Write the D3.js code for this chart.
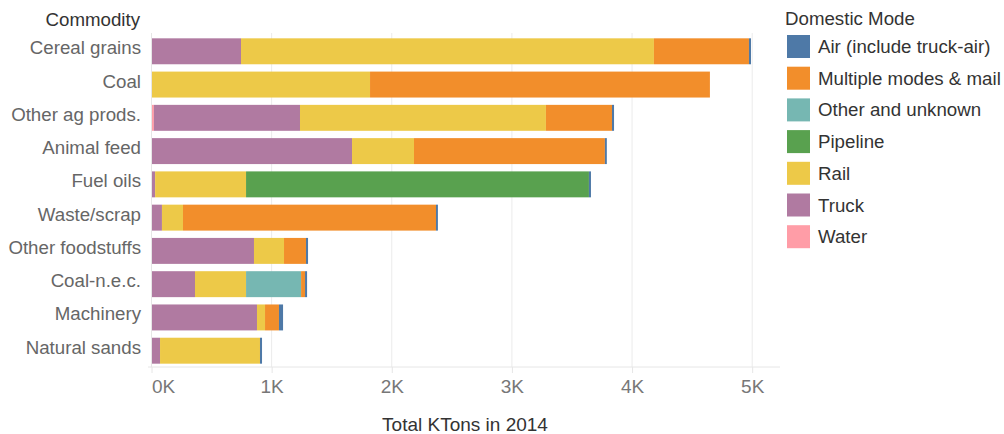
<!DOCTYPE html>
<html lang="en">
<head>
<meta charset="UTF-8">
<title>Commodity by Domestic Mode</title>
<script src="https://d3js.org/d3.v7.min.js"></script>
<style>
    body {
        margin: 0;
        padding: 0;
        background-color: #fff;
        font-family: "Liberation Sans", Arial, sans-serif;
    }
    svg text { font-family: "Liberation Sans", Arial, sans-serif; }
</style>
</head>
<body>
<svg id="chart" width="1004" height="434"></svg>
<script>
    // categories (top to bottom)
    var commodities = ["Cereal grains", "Coal", "Other ag prods.", "Animal feed", "Fuel oils",
        "Waste/scrap", "Other foodstuffs", "Coal-n.e.c.", "Machinery", "Natural sands"];

    // legend order
    var modes = ["Air (include truck-air)", "Multiple modes & mail", "Other and unknown",
        "Pipeline", "Rail", "Truck", "Water"];
    var modeColors = ["#4e79a7", "#f28e2b", "#76b7b2", "#59a14f", "#edc948", "#b07aa1", "#ff9da7"];

    // KTons per mode, one value per commodity
    var air      = [17, 0, 17, 16, 17, 16, 17, 17, 34, 17];
    var multiple = [791, 2829, 550, 1589, 0, 2106, 183, 33, 116, 0];
    var other    = [0, 0, 0, 0, 0, 0, 0, 458, 0, 0];
    var pipeline = [0, 0, 0, 0, 2854, 0, 0, 0, 0, 0];
    var rail     = [3437, 1819, 2047, 516, 757, 175, 250, 425, 67, 832];
    var truck    = [745, 0, 1216, 1669, 30, 87, 853, 362, 878, 71];
    var water    = [0, 0, 20, 0, 0, 0, 0, 0, 0, 0];

    var xTicks = [0, 1000, 2000, 3000, 4000, 5000];

    var seriesByMode = {
        "Air (include truck-air)": air,
        "Multiple modes & mail": multiple,
        "Other and unknown": other,
        "Pipeline": pipeline,
        "Rail": rail,
        "Truck": truck,
        "Water": water
    };

    var rows = commodities.map(function (c, i) {
        var r = { commodity: c };
        modes.forEach(function (m) { r[m] = seriesByMode[m][i]; });
        return r;
    });

    // stacking goes left to right in reverse legend order
    var stackOrder = modes.slice().reverse();
    var stacked = d3.stack().keys(stackOrder)(rows);

    var color = d3.scaleOrdinal().domain(modes).range(modeColors);

    var svg = d3.select("#chart");
    var plotLeft = 151.5, plotRight = 780, plotTop = 33, plotBottom = 367;
    var fs = "18.7px";

    var x = d3.scaleLinear().domain([0, 5000]).range([plotLeft, 752.2]);
    var y = d3.scaleBand().domain(commodities).range([31, 371]).padding(0.22);

    // gridlines
    svg.append("g").selectAll("line")
        .data(xTicks.slice(1))
        .enter().append("line")
        .attr("x1", function (d) { return x(d); })
        .attr("x2", function (d) { return x(d); })
        .attr("y1", plotTop).attr("y2", plotBottom)
        .attr("stroke", "#ebebeb").attr("stroke-width", 1);

    // bars
    svg.append("g").selectAll("g")
        .data(stacked)
        .enter().append("g")
        .attr("fill", function (d) { return color(d.key); })
        .selectAll("rect")
        .data(function (d) { return d; })
        .enter().append("rect")
        .attr("x", function (d) { return x(d[0]); })
        .attr("y", function (d) { return y(d.data.commodity); })
        .attr("width", function (d) { return Math.max(0, x(d[1]) - x(d[0])); })
        .attr("height", y.bandwidth());

    // zero line and bottom axis line
    svg.append("line")
        .attr("x1", plotLeft).attr("x2", plotLeft)
        .attr("y1", plotTop).attr("y2", plotBottom)
        .attr("stroke", "#e6e6e6");
    svg.append("line")
        .attr("x1", 148).attr("x2", plotRight)
        .attr("y1", plotBottom).attr("y2", plotBottom)
        .attr("stroke", "#e6e6e6");

    // x axis
    var xAxis = svg.append("g")
        .attr("transform", "translate(0," + plotBottom + ")")
        .call(d3.axisBottom(x).tickValues(xTicks)
            .tickFormat(function (d) { return (d / 1000) + "K"; })
            .tickSize(6).tickPadding(7));
    xAxis.select(".domain").remove();
    xAxis.selectAll(".tick line").attr("stroke", "#e6e6e6");
    xAxis.selectAll(".tick text")
        .attr("fill", "#777")
        .style("font-size", "19px")
        .attr("text-anchor", function (d) { return d === 0 ? "start" : "middle"; });

    svg.append("text")
        .attr("x", 465).attr("y", 431)
        .attr("text-anchor", "middle")
        .attr("fill", "#333")
        .style("font-size", "19px")
        .text("Total KTons in 2014");

    // y labels
    var yAxis = svg.append("g")
        .attr("transform", "translate(141,-3)")
        .call(d3.axisLeft(y).tickSize(0).tickPadding(0));
    yAxis.select(".domain").remove();
    yAxis.selectAll(".tick text")
        .attr("fill", "#666")
        .style("font-size", fs);

    svg.append("text")
        .attr("x", 140).attr("y", 26)
        .attr("text-anchor", "end")
        .attr("fill", "#333")
        .style("font-size", fs)
        .text("Commodity");

    // legend
    var legend = svg.append("g").attr("transform", "translate(787,0)");
    legend.append("text")
        .attr("x", -2).attr("y", 25)
        .attr("fill", "#333")
        .style("font-size", fs)
        .text("Domestic Mode");

    var item = legend.selectAll(".item")
        .data(modes)
        .enter().append("g")
        .attr("class", "item")
        .attr("transform", function (d, i) { return "translate(0," + (35 + i * 31.7) + ")"; });
    item.append("rect")
        .attr("width", 23).attr("height", 23)
        .attr("fill", function (d) { return color(d); });
    item.append("text")
        .attr("x", 31).attr("y", 18)
        .attr("fill", "#333")
        .style("font-size", fs)
        .text(function (d) { return d; });
</script>
</body>
</html>
